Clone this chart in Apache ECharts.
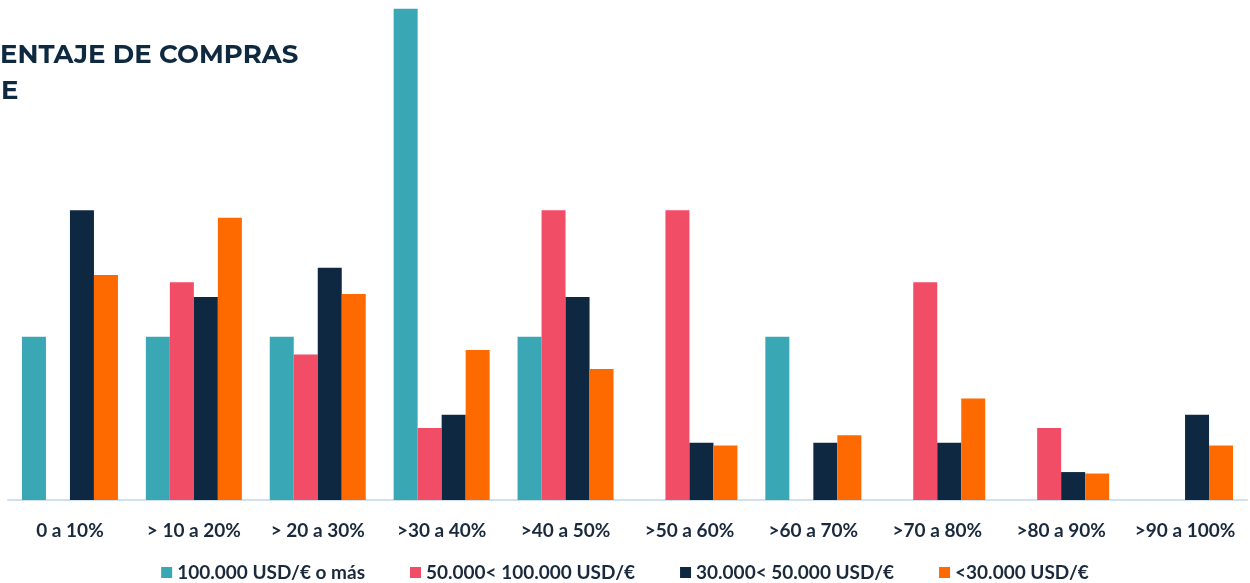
<!DOCTYPE html>
<html>
<head>
<meta charset="utf-8">
<style>
  html, body { margin: 0; padding: 0; background: #fff; }
  #chart { width: 1250px; height: 583px; }
</style>
<script src="https://cdn.jsdelivr.net/npm/echarts@6/dist/echarts.min.js"></script>
</head>
<body>
<div id="chart"></div>
<script>
// rangos de porcentaje de compras online
const categories = ['0 a 10%', '> 10 a 20%', '> 20 a 30%', '>30 a 40%', '>40 a 50%',
  '>50 a 60%', '>60 a 70%', '>70 a 80%', '>80 a 90%', '>90 a 100%'];

const seriesNames = ['100.000 USD/€ o más', '50.000< 100.000 USD/€', '30.000< 50.000 USD/€', '<30.000 USD/€'];

// valores (%)
const altos = [11.1, 11.1, 11.1, 33.4, 11.1, 0, 11.1, 0, 0, 0];
const medioAltos = [0, 14.8, 9.9, 4.9, 19.7, 19.7, 0, 14.8, 4.9, 0];
const medios = [19.7, 13.8, 15.8, 5.8, 13.8, 3.9, 3.9, 3.9, 1.9, 5.8];
const bajos = [15.3, 19.2, 14.0, 10.2, 8.9, 3.7, 4.4, 6.9, 1.8, 3.7];

const colors = ['#3aa7b5', '#f24d67', '#0d2840', '#ff6a00'];

// titulo recortado a la izquierda, como en el original
const titleFont = 'Montserrat, "Open Sans", sans-serif';
const ctx = document.createElement('canvas').getContext('2d');
ctx.font = 'bold 100px ' + titleFont;
const titleSize = Math.round(100 * 297 / ctx.measureText('ENTAJE DE COMPRAS').width);
const titleCss = 'bold ' + titleSize + 'px ' + titleFont;
ctx.font = titleCss;
const line1X = -ctx.measureText('PORC').width;
const line2X = 1 - ctx.measureText('ONLIN').width;

const labelFont = { color: '#1a2a3c', fontSize: 19, fontWeight: 'bold', fontFamily: 'Lato' };

const chart = echarts.init(document.getElementById('chart'));

const bars = [altos, medioAltos, medios, bajos].map((data, i) => ({
  name: seriesNames[i],
  type: 'bar',
  data: data,
  barWidth: 24,
  barGap: '0%',
  itemStyle: { color: colors[i] }
}));

chart.setOption({
  animation: false,
  grid: { left: 8, right: 3, top: 0, bottom: 83 },
  graphic: [{
    type: 'text',
    left: line1X,
    top: 42,
    style: { text: 'PORCENTAJE DE COMPRAS', font: titleCss, fill: '#0f2a40' }
  }, {
    type: 'text',
    left: line2X,
    top: 78,
    style: { text: 'ONLINE', font: titleCss, fill: '#0f2a40' }
  }],
  legend: {
    bottom: -4,
    left: 'center',
    itemWidth: 11,
    itemHeight: 11,
    itemGap: 45,
    icon: 'rect',
    textStyle: labelFont,
    data: seriesNames
  },
  xAxis: {
    type: 'category',
    data: categories,
    axisLine: { lineStyle: { color: '#cfe0ef', width: 2 } },
    axisTick: { show: false },
    axisLabel: Object.assign({ margin: 21, interval: 0 }, labelFont)
  },
  yAxis: {
    type: 'value',
    min: 0,
    max: 34,
    show: false,
    splitLine: { show: false }
  },
  series: bars
});
</script>
</body>
</html>
